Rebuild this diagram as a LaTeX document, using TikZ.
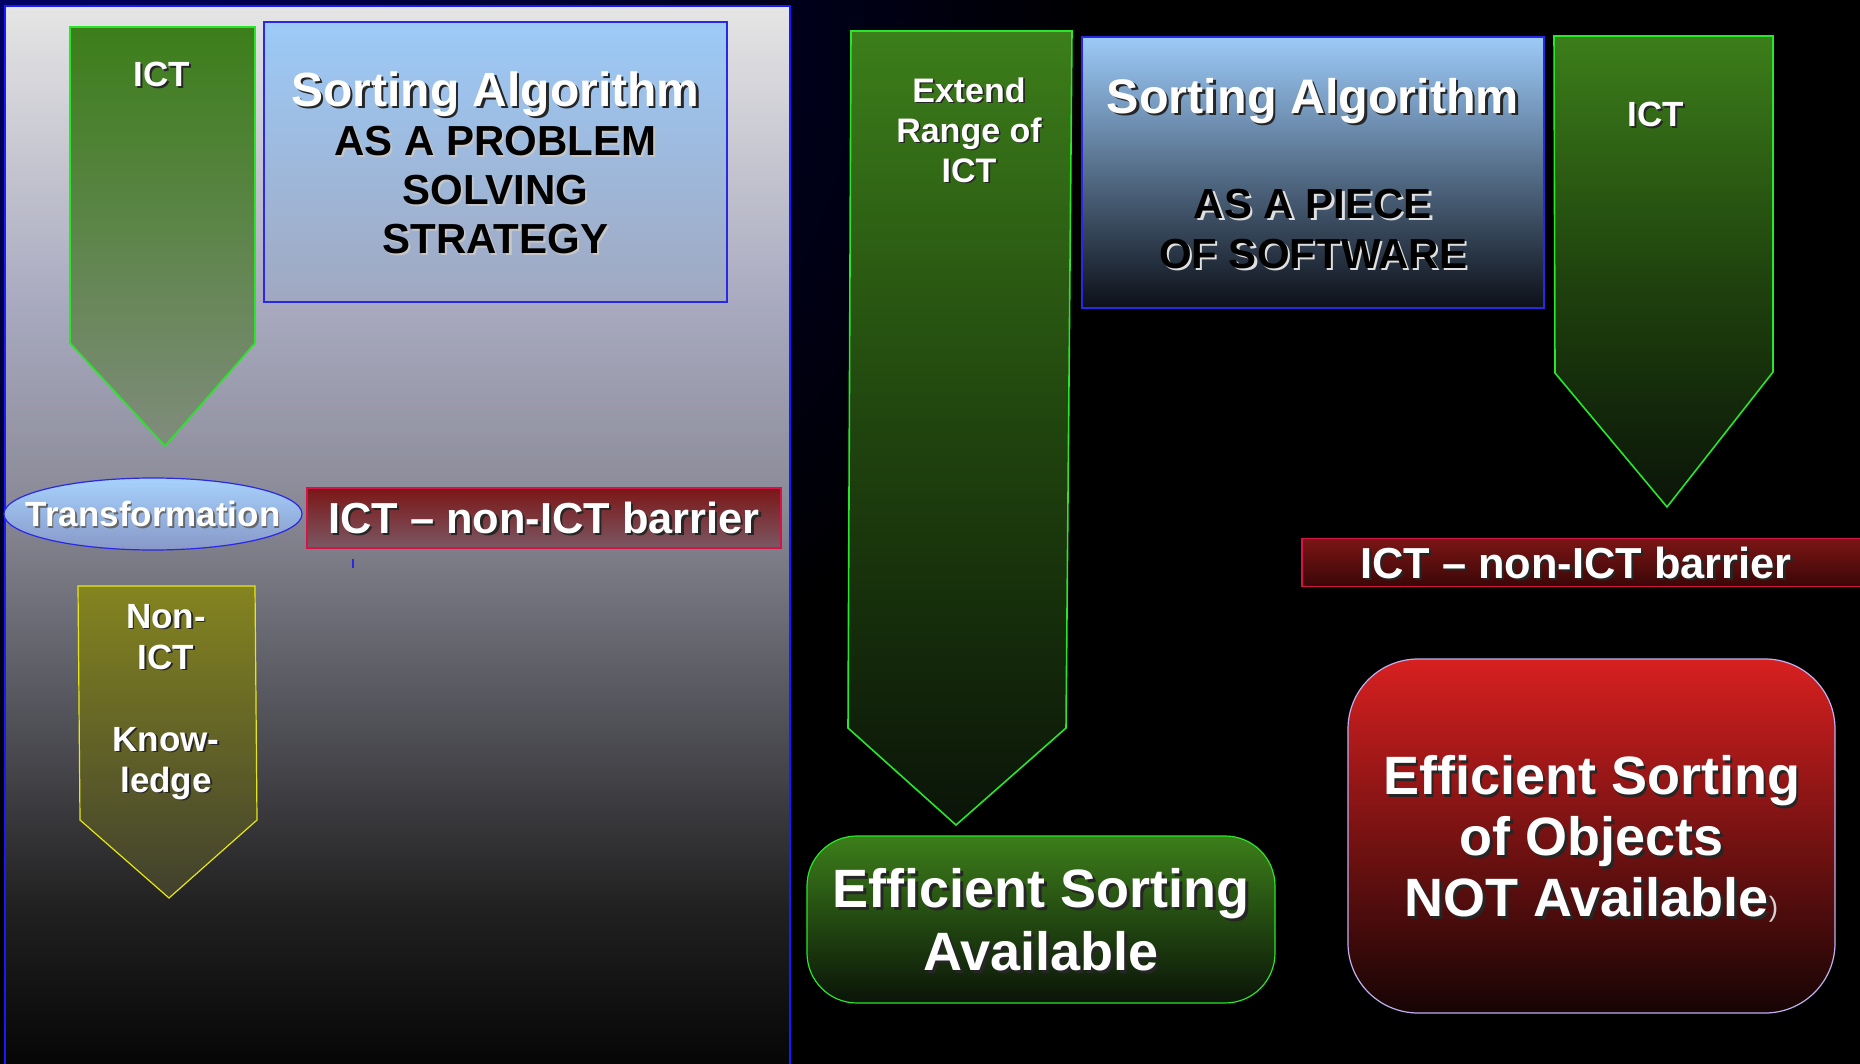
\documentclass[tikz,border=0pt]{standalone}
\usepackage{fontspec}
\setmainfont{Liberation Sans}
\usetikzlibrary{positioning,shapes.geometric}
\definecolor{navybg}{RGB}{0,0,100}
\definecolor{ictgreen}{RGB}{60,126,26}
\definecolor{midgreen}{RGB}{32,68,14}
\definecolor{deepgreen}{RGB}{10,20,8}
\definecolor{fadegreen}{RGB}{128,140,124}
\definecolor{edgegreen}{RGB}{40,230,40}
\definecolor{skyblue}{RGB}{156,202,248}
\definecolor{paleslate}{RGB}{160,168,192}
\definecolor{inkblue}{RGB}{12,16,24}
\definecolor{paleblue}{RGB}{166,210,252}
\definecolor{dimblue}{RGB}{136,152,200}
\definecolor{boxblue}{RGB}{40,40,230}
\definecolor{barred}{RGB}{124,22,22}
\definecolor{mauve}{RGB}{122,88,100}
\definecolor{wine}{RGB}{58,6,6}
\definecolor{edgered}{RGB}{210,20,70}
\definecolor{knowolive}{RGB}{132,132,32}
\definecolor{knowdark}{RGB}{64,64,46}
\definecolor{edgeyellow}{RGB}{230,230,20}
\definecolor{hotred}{RGB}{216,32,32}
\definecolor{blackred}{RGB}{22,4,4}
\definecolor{edgelilac}{RGB}{190,176,240}
\pgfdeclareverticalshading{panelshade}{100bp}{rgb(0bp)=(0.02,0.02,0.02); rgb(25bp)=(0.02,0.02,0.02); rgb(32.5bp)=(0.125,0.125,0.125); rgb(42bp)=(0.33,0.33,0.36); rgb(51.5bp)=(0.54,0.54,0.59); rgb(61bp)=(0.66,0.665,0.75); rgb(68bp)=(0.78,0.78,0.82); rgb(75bp)=(0.9,0.9,0.9); rgb(100bp)=(0.9,0.9,0.9)}
\newcommand{\fsz}[2]{\fontsize{#1}{#2}\selectfont}
\newcommand{\shd}[2][black!85]{\rule[-0.2em]{0pt}{1.12em}\makebox[0pt][l]{\kern0.05em\raisebox{-0.05em}{\color{#1}#2}}#2}
\setlength{\lineskiplimit}{-\maxdimen}

\begin{document}
\begin{tikzpicture}[x=1pt, y=-1pt,
        box/.style={rectangle, draw=boxblue, line width=1.2pt, align=center, text=white,
            inner sep=0pt, font=\bfseries\fsz{42}{49}},
        bar/.style={rectangle, draw=edgered, line width=1.2pt, text=white, inner sep=0pt,
            font=\bfseries\fsz{43.4}{48}},
        arrowbody/.style={draw=edgegreen, line width=1.6pt},
        word/.style={text=white, align=center, inner sep=0pt, font=\bfseries\fsz{35}{41}},
        pill/.style={rectangle, line width=1.2pt, text=white, align=center, inner sep=0pt}
    ]
        \useasboundingbox (0,0) rectangle (1860,1064);
        \fill[black] (0,0) rectangle (1860,1064);
        \begin{scope}
            \clip (0,0) rectangle (1860,1064);
            \shade[inner color=navybg, outer color=black] (0,0) ellipse (1100pt and 900pt);
        \end{scope}

        % left half: the algorithm as a strategy
        \shadedraw[shading=panelshade, draw=blue!90, line width=2pt] (5,6) rectangle (790,1070);

        \shadedraw[arrowbody, top color=ictgreen, bottom color=fadegreen]
            (70,27) -- (255,27) -- (255,343) -- (165,446) -- (70,343) -- cycle;
        \node[word] (lict) at (162,74) {\shd{ICT}};

        \node[box, top color=skyblue, bottom color=paleslate, minimum width=463pt, minimum height=280pt]
            (lprob) at (495.5,162) {{\fsz{48}{49}\shd{Sorting Algorithm}}\\
            {\color{black}\shd[gray!45]{AS A PROBLEM}}\\
            {\color{black}\shd[gray!45]{SOLVING}}\\
            {\color{black}\shd[gray!45]{STRATEGY}}};

        \node[ellipse, draw=boxblue, line width=1.2pt, top color=paleblue, bottom color=dimblue,
            minimum width=298pt, minimum height=72pt, inner sep=0pt, inner xsep=-22pt, text=white,
            font=\bfseries\fsz{35}{41}] (transf) at (153,514) {\shd[black!60]{Transformation}};
        \node[bar, top color=barred, bottom color=mauve, minimum width=474pt, minimum height=60pt]
            (lbarrier) at (544,518) {\shd{ICT – non-ICT barrier}};
        \draw[boxblue, line width=1.5pt] (353,559) -- (353,568);

        \shadedraw[draw=edgeyellow, line width=1.2pt, top color=knowolive, bottom color=knowdark]
            (78,586) -- (255,586) -- (257,820) -- (169,898) -- (80,820) -- cycle;
        \node[word] (nonict) at (166,698.5) {\shd{Non-}\\ \shd{ICT}\\[41pt] \shd{Know-}\\ \shd{ledge}};

        % right half: the algorithm as software
        \shadedraw[arrowbody, top color=ictgreen, bottom color=deepgreen, middle color=midgreen]
            (851,31) -- (1072,31) -- (1066,728) -- (956,825) -- (848,728) -- cycle;
        \node[word, font=\bfseries\fsz{34}{40}] (extend) at (969,130)
            {\shd{Extend}\\ \shd{Range of}\\ \shd{ICT}};

        \node[box, top color=skyblue, bottom color=inkblue, minimum width=462pt, minimum height=271pt,
            font=\bfseries\fsz{42}{50}] (rsoft) at (1313,172.5) {{\fsz{48.5}{50}\shd{Sorting Algorithm}}\\[55pt]
            {\color{black}\shd[gray!25]{AS A PIECE}}\\
            {\color{black}\shd[gray!25]{OF SOFTWARE}}};

        \shadedraw[arrowbody, top color=ictgreen, bottom color=deepgreen, middle color=midgreen]
            (1554,36) -- (1773,36) -- (1773,372) -- (1667,507) -- (1555,373) -- cycle;
        \node[word] (rict) at (1656,114) {\shd{ICT}};

        \node[bar, top color=barred, bottom color=wine, minimum width=566pt, minimum height=47pt]
            (rbarrier) at (1585,562.5) {\kern-18pt\shd{ICT – non-ICT barrier}};

        \node[pill, rounded corners=50pt, draw=edgegreen, top color=ictgreen, bottom color=deepgreen,
            minimum width=468pt, minimum height=167pt, font=\bfseries\fsz{54}{63}]
            (avail) at (1041,919.5) {\shd{Efficient Sorting}\\ \shd{Available}};
        \node[pill, rounded corners=70pt, draw=edgelilac, top color=hotred, bottom color=blackred,
            minimum width=487pt, minimum height=354pt, font=\bfseries\fsz{54}{61}]
            (notavail) at (1591.5,836) {\shd{Efficient Sorting}\\ \shd{of Objects}\\
            \shd{NOT Available}{\mdseries\fsz{28}{28}\color{gray!35})}};
    \end{tikzpicture}
\end{document}
